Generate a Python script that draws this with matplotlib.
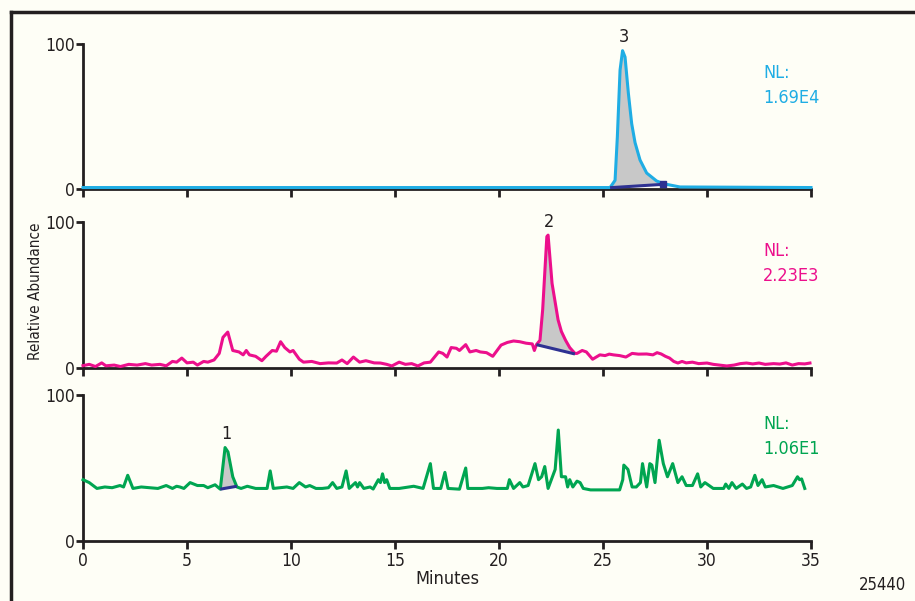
import numpy as np
import matplotlib
matplotlib.use('Agg')
import matplotlib.pyplot as plt
from matplotlib.lines import Line2D

plt.rcParams['font.family'] = ['DejaVu Sans']
plt.rcParams['font.stretch'] = 'condensed'

# trace 3 (blue), NL 1.69E4
t3 = [0, 25.34, 25.58, 25.69, 25.82, 25.94, 26.06, 26.22, 26.38, 26.54, 26.78,
      27.1, 27.58, 27.98, 28.06, 28.7, 35]
v3 = [1.0, 1.0, 6, 36, 82, 95.4, 91, 66, 45, 32, 20, 11, 5.5, 3.4, 3.2, 1.4, 1.0]
base3 = ([25.34, 27.98], [0.9, 3.3])

# trace 2 (magenta), NL 2.23E3
t2 = [0.0, 0.3, 0.6, 0.9, 1.1, 1.5, 1.8, 2.2, 2.6, 3.0, 3.3, 3.7, 4.0, 4.3, 4.5,
      4.75, 5.0, 5.3, 5.5, 5.8, 6.0, 6.3, 6.55, 6.73, 6.96, 7.2, 7.5, 7.7, 7.85,
      8.0, 8.3, 8.6, 8.8, 9.1, 9.3, 9.5, 9.7, 9.95, 10.1, 10.4, 10.6, 11.0, 11.4,
      11.8, 12.2, 12.45, 12.7, 13.0, 13.3, 13.6, 14.0, 14.3, 14.6, 14.85, 15.2,
      15.5, 15.8, 16.1, 16.4, 16.7, 17.1, 17.3, 17.5, 17.7, 17.95, 18.1, 18.4,
      18.6, 18.9, 19.1, 19.4, 19.7, 20.1, 20.4, 20.7, 21.0, 21.3, 21.6, 21.7,
      21.8, 21.97, 22.1, 22.3, 22.36, 22.45, 22.55, 22.84, 23.0, 23.2, 23.4,
      23.65, 23.75, 24.0, 24.2, 24.5, 24.85, 25.1, 25.3, 25.5, 25.8, 26.1, 26.4,
      26.7, 27.1, 27.4, 27.6, 27.8, 28.0, 28.2, 28.4, 28.6, 28.8, 29.0, 29.3,
      29.6, 30.0, 30.3, 30.6, 30.95, 31.3, 31.6, 31.9, 32.2, 32.5, 32.8, 33.2,
      33.5, 33.8, 34.1, 34.4, 34.7, 34.95]
v2 = [1.6, 2.5, 1.0, 3.5, 1.5, 2.0, 1.0, 2.5, 2.0, 3.0, 2.0, 2.5, 1.5, 4.5, 4.0,
      6.8, 3.5, 4.0, 2.0, 4.5, 4.0, 5.5, 10, 21, 24.6, 12, 11, 9, 12,
      9, 8, 5, 8, 12, 11.5, 18, 14, 11, 12, 6, 4, 4.5, 3.0,
      3.5, 3.4, 5.5, 3.0, 7.5, 4.0, 5.0, 3.5, 3.4, 2.5, 1.4, 4.0,
      2.5, 3.0, 1.4, 3.5, 4.0, 11, 10, 7.5, 14, 13.5, 12, 16,
      11, 12, 11, 10.5, 8, 15.7, 17.5, 18.5, 18, 17, 16.5, 12,
      16, 19, 40, 90, 91, 75, 58, 33, 25, 19, 14,
      10, 10, 12, 11, 6, 9, 8.5, 9.5, 9, 8.5, 7.5, 10,
      9.5, 9.6, 9, 10.5, 9.6, 8, 6.8, 4.5, 3.4, 4.5, 3.5, 4,
      3, 3.4, 2.5, 2, 1.4, 2.0, 3.0, 3.4, 2.8, 3.4, 2.5, 3.0,
      2.7, 3.5, 2.0, 3.0, 2.8, 3.4]
base2 = ([21.8, 23.65], [16, 9.6])

# trace 1 (green), NL 1.06E1
t1 = [0, 0.3, 0.67, 1.05, 1.4, 1.78, 1.95, 2.15, 2.4, 2.8, 3.2, 3.6, 4.0, 4.3,
      4.5, 4.66, 4.85, 5.15, 5.5, 5.8, 6.0, 6.35, 6.6, 6.83, 6.97, 7.2, 7.4,
      7.6, 7.9, 8.3, 8.85, 9.0, 9.15, 9.5, 9.8, 10.1, 10.4, 10.7, 10.9, 11.2,
      11.5, 11.8, 12.0, 12.2, 12.45, 12.65, 12.8, 13.1, 13.2, 13.3, 13.5, 13.8,
      13.95, 14.2, 14.3, 14.4, 14.5, 14.6, 14.75, 15.2, 15.9, 16.35, 16.7,
      16.85, 17.2, 17.4, 17.55, 18.1, 18.4, 18.5, 19.2, 19.5, 19.9, 20.4, 20.5,
      20.7, 21.0, 21.15, 21.4, 21.73, 21.9, 22.05, 22.2, 22.36, 22.7, 22.85,
      23.0, 23.2, 23.3, 23.4, 23.55, 23.75, 23.9, 24.05, 24.4, 25.8, 25.95,
      26.0, 26.2, 26.4, 26.6, 26.8, 26.9, 27.1, 27.25, 27.35, 27.5, 27.7, 27.9,
      28.1, 28.35, 28.6, 28.8, 29.0, 29.3, 29.55, 29.7, 29.9, 30.3, 30.8, 30.9,
      31.05, 31.2, 31.4, 31.7, 31.9, 32.1, 32.3, 32.45, 32.65, 32.8, 33.2,
      33.65, 34.1, 34.35, 34.45, 34.55, 34.7]
v1 = [42, 40, 36, 37, 36.5, 38, 37, 45, 36, 37, 36.5, 36, 38, 36,
      37.5, 37, 36, 40, 38, 38, 36.5, 38.5, 35.5, 64, 61, 44, 37,
      36, 37.5, 36, 36, 48, 36, 36.5, 37, 36, 40, 37, 38, 36,
      36, 36.5, 40, 36, 37, 48, 36, 40, 37, 40, 36, 37,
      35.6, 42, 40, 46, 40, 42, 36, 36, 37.5, 36, 53,
      36, 36, 47, 36, 35.5, 50, 36, 36, 36.5, 36, 36, 42,
      36, 40, 37, 38, 53, 42, 44, 51, 36, 49, 76,
      44, 44, 37, 42, 37, 41, 40, 36, 35, 35, 42,
      52, 49, 37, 37, 40, 53, 37, 53, 52, 40, 69, 53,
      44, 53, 40, 44, 38, 38, 46, 37, 40, 36, 36, 39,
      36, 40, 36, 39, 36, 37, 45, 38, 42, 37, 38,
      36, 38, 44, 42, 42.5, 36]
base1 = ([6.6, 7.4], [35.5, 37.5])

panels = [
    dict(t=t3, v=v3, base=base3, color='#1fade4', nl='1.69E4', peak='3', px=(44, 189)),
    dict(t=t2, v=v2, base=base2, color='#ec0f8c', nl='2.23E3', peak='2', px=(222, 368)),
    dict(t=t1, v=v1, base=base1, color='#00a551', nl='1.06E1', peak='1', px=(395, 541)),
]

W, H = 915, 601
bg = '#fefef6'
ink = '#231f20'
fig = plt.figure(figsize=(W / 100, H / 100), dpi=100, facecolor=bg)

# frame lines (left and top)
fig.add_artist(Line2D([11 / W, 11 / W], [0, 1 - 12 / H], color=ink, lw=2.5,
                      transform=fig.transFigure))
fig.add_artist(Line2D([11 / W, 1], [1 - 12 / H, 1 - 12 / H], color=ink, lw=2.5,
                      transform=fig.transFigure))

x0, x1 = 83, 811
for i, p in enumerate(panels):
    top, bot = p['px']
    ax = fig.add_axes([x0 / W, 1 - bot / H, (x1 - x0) / W, (bot - top) / H])
    ax.patch.set_visible(False)
    t = np.array(p['t'])
    v = np.array(p['v'])
    bt, bv = p['base']
    m = (t >= bt[0]) & (t <= bt[1])
    ax.fill_between(t[m], v[m], np.interp(t[m], bt, bv), color='#c8c8c8',
                    lw=0, zorder=1)
    ax.plot(t, v, color=p['color'], lw=2.2, clip_on=False, zorder=3,
            solid_joinstyle='round')
    ax.plot(bt, bv, color='#2e3192', lw=2.2, zorder=4, solid_capstyle='butt')
    if i == 0:
        ax.plot([bt[1] - 0.1], [bv[1]], marker='s', ms=5, color='#2e3192', zorder=4)
    # label the integrated peak at its apex
    ipk = np.flatnonzero(m)[np.argmax(v[m])]
    ax.text(t[ipk] + 0.05, v[ipk] + 3, p['peak'], ha='center', va='bottom',
            fontsize=13, color=ink)
    ax.text(32.7, 86, 'NL:\n' + p['nl'], ha='left', va='top', fontsize=13,
            color=p['color'], linespacing=1.5)

    ax.set_xlim(0, 35)
    ax.set_ylim(0, 100)
    for s in ['top', 'right']:
        ax.spines[s].set_visible(False)
    for s in ['left', 'bottom']:
        ax.spines[s].set_linewidth(2)
        ax.spines[s].set_color(ink)
    ax.set_xticks(np.arange(0, 36, 5))
    ax.set_yticks([0, 100])
    ax.tick_params(axis='both', direction='out', width=2, color=ink,
                   labelsize=12.5, labelcolor=ink, pad=2)
    ax.tick_params(axis='x', length=6)
    ax.tick_params(axis='y', length=5, pad=1)
    if i < 2:
        ax.set_xticklabels([])
    else:
        ax.set_xlabel('Minutes', fontsize=13, color=ink, labelpad=0)

fig.text(36 / W, 1 - 291 / H, 'Relative Abundance', rotation=90, ha='center',
         va='center', fontsize=11, color=ink)
fig.text(883 / W, 1 - 585 / H, '25440', ha='center', va='center', fontsize=12,
         color=ink)

fig.savefig('out.png', dpi=100, facecolor=bg)
